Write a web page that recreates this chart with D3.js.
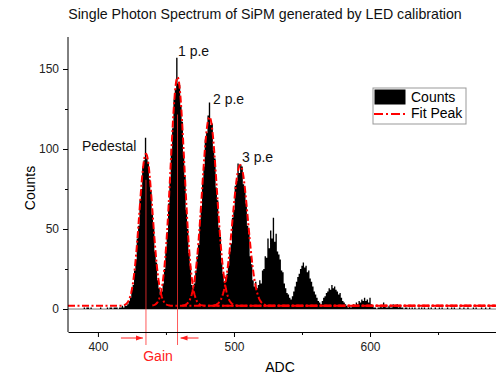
<!DOCTYPE html>
<html>
<head>
<meta charset="utf-8">
<script src="https://cdn.jsdelivr.net/npm/d3@7"></script>
<style>
  body { margin: 0; background: #fff; }
  svg { font-family: "Liberation Sans", Arial, sans-serif; }
</style>
</head>
<body>
<svg id="chart"></svg>
<script>
// histogram counts, one bin per ADC channel, starting at firstChannel
const firstChannel = 388;
const counts = [
  0, 0, 1, 0, 1, 1, 0, 1, 0, 0, 0, 0, 0, 0, 1, 0, 0,          // 388-404
  0, 0, 1, 0, 1, 1, 0, 1, 1, 1, 0, 1, 1, 2, 1, 2, 2,          // 405-421
  3, 5, 7, 12, 15, 24, 31, 44, 52, 68,                        // 422-431
  75, 89, 93, 107, 94, 92, 81, 74, 59, 50,                    // 432-441
  36, 29, 18, 13, 9, 11, 16, 25, 37, 48,                      // 442-451
  66, 79, 100, 113, 131, 137, 157, 141, 140, 127,             // 452-461
  117, 96, 83, 62, 50, 35, 27, 15, 13, 16,                    // 462-471
  24, 33, 40, 56, 63, 82, 89, 106, 110, 121,                  // 472-481
  129, 115, 116, 99, 94, 76, 68, 51, 45, 29,                  // 482-491
  22, 17, 20, 22, 27, 36, 41, 57, 62, 77,                     // 492-501
  80, 91, 85, 90, 89, 78, 75, 66, 52, 47,                     // 502-511
  33, 28, 18, 14, 17, 13, 15, 18, 16, 24,                     // 512-521
  25, 33, 32, 44, 38, 49, 44, 57, 42, 47,                     // 522-531
  36, 34, 31, 24, 23, 16, 13, 10, 9, 7,                       // 532-541
  6, 8, 11, 14, 17, 20, 22, 25, 27, 29,                       // 542-551
  26, 27, 23, 24, 19, 17, 14, 11, 9, 7,                       // 552-561
  5, 4, 3, 5, 7, 8, 10, 11, 13, 12,                           // 562-571
  15, 13, 14, 12, 11, 9, 10, 7, 5, 4,                         // 572-581
  3, 2, 1, 2, 1, 2, 3, 2, 4, 3,                               // 582-591
  5, 4, 6, 5, 7, 5, 6, 4, 7, 3,                               // 592-601
  2, 1, 1, 0, 1, 1, 2, 1, 4, 2,                               // 602-611
  1, 1, 2, 1, 1, 3, 2, 2, 3, 1,                               // 612-621
  2, 1, 1, 0, 1, 1, 0, 1, 0, 1,                               // 622-631
  0, 1, 0, 0, 1, 0, 1, 0, 1, 0,                               // 632-641
  0, 1, 0, 1, 0, 0, 1, 0, 0, 1,                               // 642-651
  0, 1, 0, 0, 0, 1, 0, 0, 1, 0,                               // 652-661
  1, 0, 0, 0, 1, 0, 0, 1, 0, 0,                               // 662-671
  1, 0, 0, 0, 1, 0, 1, 0, 0, 0,                               // 672-681
  1, 0, 0, 1, 0, 0, 1, 0, 0                                   // 682-690
];

// gaussian fits: pedestal, 1 p.e, 2 p.e, 3 p.e
const fitCenters = [435.3, 458.5, 482.0, 504.6];
const fitHeights = [95, 143, 118, 88];
const fitSigmas  = [4.9, 5.1, 5.5, 5.7];
const fitStarts  = [378, 440, 462, 485];
const fitOffset = 2;

const peakLabels = ["Pedestal", "1 p.e", "2 p.e", "3 p.e"];
const xTicks = [400, 500, 600];
const xMinorTicks = [450, 550, 650];
const yTicks = [0, 50, 100, 150];
const yMinorTicks = [25, 75, 125];

const width = 496, height = 375;
const plotLeft = 68, plotRight = 496, plotTop = 37, plotBottom = 332;

const svg = d3.select("#chart").attr("width", width).attr("height", height);

const x = d3.scaleLinear().domain([378, 692.6]).range([plotLeft, plotRight]);
const y = d3.scaleLinear().domain([0, 150]).range([309, 69]);

const defs = svg.append("defs");
defs.append("clipPath").attr("id", "plot")
   .append("rect").attr("x", plotLeft).attr("y", plotTop)
   .attr("width", plotRight - plotLeft).attr("height", plotBottom - plotTop);

const plot = svg.append("g").attr("clip-path", "url(#plot)");

// zero line
plot.append("line")
    .attr("x1", plotLeft).attr("x2", plotRight)
    .attr("y1", y(0)).attr("y2", y(0))
    .attr("stroke", "#777").attr("stroke-width", 1);

// histogram as one stepped area, so neighbouring bins leave no seams
const bins = counts.map((c, i) => [firstChannel + i - 0.5, c]);
bins.push([firstChannel + counts.length - 0.5, 0]);
const histArea = d3.area()
    .curve(d3.curveStepAfter)
    .x(d => x(d[0]))
    .y0(y(0))
    .y1(d => y(d[1]));
plot.append("path")
    .datum(bins)
    .attr("d", histArea)
    .attr("fill", "#000");

// gain marker lines through the pedestal and 1 p.e peaks
[0, 1].forEach(i => {
    svg.append("line")
       .attr("x1", x(fitCenters[i])).attr("x2", x(fitCenters[i]))
       .attr("y1", y(fitHeights[i] * 0.85)).attr("y2", 345)
       .attr("stroke", "#ff3030").attr("stroke-width", 0.8);
});

// fit curves
const line = d3.line().x(d => x(d[0])).y(d => y(d[1]));
fitCenters.forEach((c, i) => {
    const pts = d3.range(fitStarts[i], 693, 0.5).map(a =>
        [a, fitOffset + fitHeights[i] * Math.exp(-((a - c) ** 2) / (2 * fitSigmas[i] ** 2))]);
    plot.append("path")
        .datum(pts)
        .attr("d", line)
        .attr("fill", "none")
        .attr("stroke", "#ff0000")
        .attr("stroke-width", 2)
        .attr("stroke-dasharray", "7,2.5,2,2.5");
});

// axes
const xAxis = svg.append("g")
    .attr("transform", `translate(0,${plotBottom})`)
    .call(d3.axisBottom(x).tickValues(xTicks).tickSize(5).tickSizeOuter(0).tickPadding(5));
xAxis.append("g")
    .call(d3.axisBottom(x).tickValues(xMinorTicks).tickSize(3).tickFormat(""))
    .select(".domain").remove();

const yAxis = svg.append("g")
    .attr("transform", `translate(${plotLeft},0)`)
    .call(d3.axisLeft(y).tickValues(yTicks).tickSize(5).tickPadding(4));
yAxis.select(".domain").remove();
yAxis.append("g")
    .call(d3.axisLeft(y).tickValues(yMinorTicks).tickSize(3).tickFormat(""))
    .select(".domain").remove();

svg.append("line")
   .attr("x1", plotLeft).attr("x2", plotLeft).attr("y1", plotTop).attr("y2", plotBottom)
   .attr("stroke", "#000");
xAxis.select(".domain").attr("stroke", "#000");

svg.selectAll(".tick text").attr("font-size", 12).attr("fill", "#222")
   .attr("font-family", "Liberation Sans, Arial, sans-serif");
svg.selectAll(".tick line").attr("stroke", "#000");

// titles
svg.append("text")
   .attr("x", 265).attr("y", 19)
   .attr("text-anchor", "middle")
   .attr("font-size", 14.2)
   .attr("fill", "#111")
   .text("Single Photon Spectrum of SiPM generated by LED calibration");

svg.append("text")
   .attr("x", 280).attr("y", 372)
   .attr("text-anchor", "middle")
   .attr("font-size", 14)
   .text("ADC");

svg.append("text")
   .attr("transform", "translate(35,188) rotate(-90)")
   .attr("text-anchor", "middle")
   .attr("font-size", 14)
   .text("Counts");

// peak labels
const labelPos = [[82, 151], [178, 56], [213, 104], [242, 162]];
peakLabels.forEach((t, i) => {
    svg.append("text")
       .attr("x", labelPos[i][0]).attr("y", labelPos[i][1])
       .attr("font-size", 14)
       .attr("fill", "#111")
       .text(t);
});

// gain annotation
defs.append("marker")
    .attr("id", "arrow")
    .attr("viewBox", "0 0 10 10")
    .attr("refX", 10).attr("refY", 5)
    .attr("markerWidth", 7).attr("markerHeight", 7)
    .attr("orient", "auto")
    .append("path").attr("d", "M0,1.5 L10,5 L0,8.5 Z").attr("fill", "#ff2020");

svg.append("line")
   .attr("x1", x(fitCenters[0]) - 25).attr("x2", x(fitCenters[0]) - 3)
   .attr("y1", 338).attr("y2", 338)
   .attr("stroke", "#ff2020").attr("stroke-width", 1)
   .attr("marker-end", "url(#arrow)");
svg.append("line")
   .attr("x1", x(fitCenters[1]) + 21).attr("x2", x(fitCenters[1]) + 3)
   .attr("y1", 338).attr("y2", 338)
   .attr("stroke", "#ff2020").attr("stroke-width", 1)
   .attr("marker-end", "url(#arrow)");

svg.append("text")
   .attr("x", 158).attr("y", 361)
   .attr("text-anchor", "middle")
   .attr("font-size", 14)
   .attr("fill", "#ff2020")
   .text("Gain");

// legend
const legend = svg.append("g").attr("transform", "translate(373,88)");
legend.append("rect")
      .attr("width", 93).attr("height", 36)
      .attr("fill", "#fff").attr("stroke", "#999");
legend.append("rect")
      .attr("x", 1.5).attr("y", 1.5).attr("width", 31).attr("height", 15)
      .attr("fill", "#000");
legend.append("text")
      .attr("x", 38).attr("y", 14).attr("font-size", 14).text("Counts");
legend.append("line")
      .attr("x1", 1).attr("x2", 33).attr("y1", 26).attr("y2", 26)
      .attr("stroke", "#ff0000").attr("stroke-width", 2)
      .attr("stroke-dasharray", "9,3,2,3");
legend.append("text")
      .attr("x", 38).attr("y", 30).attr("font-size", 14).text("Fit Peak");
</script>
</body>
</html>
